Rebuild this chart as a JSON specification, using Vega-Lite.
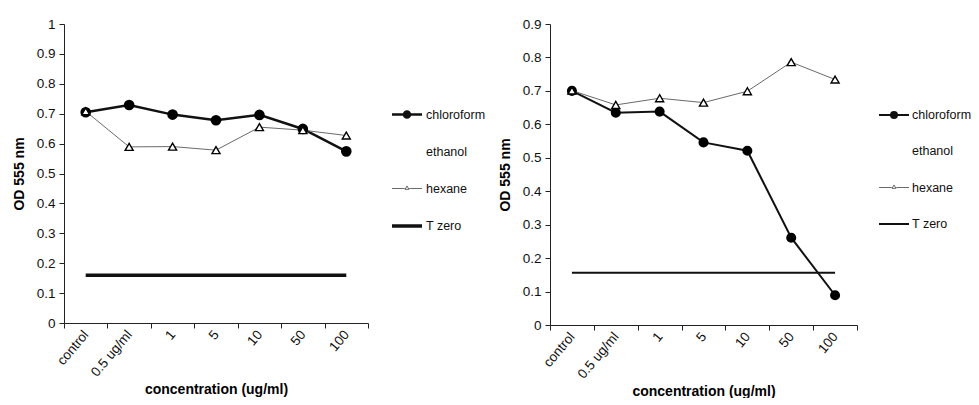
{
  "$schema": "https://vega.github.io/schema/vega-lite/v6.json",
  "padding": {"left": 12, "top": 17, "right": 0, "bottom": 0},
  "spacing": 12,
  "config": {
    "view": {"stroke": null},
    "font": "Liberation Sans",
    "axis": {"grid": false, "domainColor": "#222", "tickColor": "#222", "labelColor": "#111", "titleColor": "#000", "labelFont": "Liberation Sans", "labelFontSize": 13.5, "tickSize": 5},
    "axisX": {"labelAngle": -50, "tickBand": "extent", "labelPadding": 4, "labelOffset": 0},
    "axisY": {"labelPadding": 4, "format": ".1~f"},
    "legend": {"labelFont": "Liberation Sans", "labelFontSize": 12.5, "labelColor": "#111", "symbolSize": 900, "rowPadding": 14, "labelOffset": 2}
  },
  "datasets": {
    "left": [
      {"series": "chloroform", "conc": "control", "od": 0.705},
      {"series": "chloroform", "conc": "0.5 ug/ml", "od": 0.729},
      {"series": "chloroform", "conc": "1", "od": 0.697},
      {"series": "chloroform", "conc": "5", "od": 0.678},
      {"series": "chloroform", "conc": "10", "od": 0.696},
      {"series": "chloroform", "conc": "50", "od": 0.649},
      {"series": "chloroform", "conc": "100", "od": 0.574},
      {"series": "hexane", "conc": "control", "od": 0.708},
      {"series": "hexane", "conc": "0.5 ug/ml", "od": 0.589},
      {"series": "hexane", "conc": "1", "od": 0.59},
      {"series": "hexane", "conc": "5", "od": 0.578},
      {"series": "hexane", "conc": "10", "od": 0.655},
      {"series": "hexane", "conc": "50", "od": 0.645},
      {"series": "hexane", "conc": "100", "od": 0.627},
      {"series": "T zero", "conc": "control", "od": 0.16},
      {"series": "T zero", "conc": "0.5 ug/ml", "od": 0.16},
      {"series": "T zero", "conc": "1", "od": 0.16},
      {"series": "T zero", "conc": "5", "od": 0.16},
      {"series": "T zero", "conc": "10", "od": 0.16},
      {"series": "T zero", "conc": "50", "od": 0.16},
      {"series": "T zero", "conc": "100", "od": 0.16}
    ],
    "right": [
      {"series": "chloroform", "conc": "control", "od": 0.7},
      {"series": "chloroform", "conc": "0.5 ug/ml", "od": 0.635},
      {"series": "chloroform", "conc": "1", "od": 0.638},
      {"series": "chloroform", "conc": "5", "od": 0.546},
      {"series": "chloroform", "conc": "10", "od": 0.521},
      {"series": "chloroform", "conc": "50", "od": 0.261},
      {"series": "chloroform", "conc": "100", "od": 0.089},
      {"series": "hexane", "conc": "control", "od": 0.701},
      {"series": "hexane", "conc": "0.5 ug/ml", "od": 0.658},
      {"series": "hexane", "conc": "1", "od": 0.678},
      {"series": "hexane", "conc": "5", "od": 0.665},
      {"series": "hexane", "conc": "10", "od": 0.699},
      {"series": "hexane", "conc": "50", "od": 0.786},
      {"series": "hexane", "conc": "100", "od": 0.734},
      {"series": "T zero", "conc": "control", "od": 0.156},
      {"series": "T zero", "conc": "0.5 ug/ml", "od": 0.156},
      {"series": "T zero", "conc": "1", "od": 0.156},
      {"series": "T zero", "conc": "5", "od": 0.156},
      {"series": "T zero", "conc": "10", "od": 0.156},
      {"series": "T zero", "conc": "50", "od": 0.156},
      {"series": "T zero", "conc": "100", "od": 0.156}
    ]
  },
  "resolve": {"scale": {"x": "independent", "y": "independent", "stroke": "independent", "strokeWidth": "independent"}, "legend": {"stroke": "independent"}},
  "hconcat": [
    {
      "width": 304,
      "height": 299,
      "data": {"name": "left"},
      "encoding": {
        "x": {"field": "conc", "type": "ordinal", "sort": ["control", "0.5 ug/ml", "1", "5", "10", "50", "100"], "scale": {"type": "band", "paddingInner": 0, "paddingOuter": 0},
              "axis": {"title": "concentration (ug/ml)", "titleFont": "Liberation Sans", "titleFontWeight": "bold", "titleFontSize": 14, "titleY": 66, "titleBaseline": "middle"}},
        "y": {"field": "od", "type": "quantitative", "scale": {"domain": [0, 1], "nice": false},
              "axis": {"values": [0, 0.1, 0.2, 0.3, 0.4, 0.5, 0.6, 0.7, 0.8, 0.9, 1], "title": "OD 555 nm", "titleFont": "Liberation Sans", "titleFontWeight": "bold", "titleFontSize": 14, "titlePadding": 10}}
      },
      "layer": [
        {
          "mark": {"type": "line"},
          "encoding": {
            "stroke": {
              "field": "series", "type": "nominal",
              "scale": {"domain": ["chloroform", "ethanol", "hexane", "T zero"], "range": ["#111111", "rgba(0,0,0,0)", "#6a6a6a", "#111111"]},
              "legend": {
                "title": null, "orient": "none", "legendX": 326, "legendY": 74, "rowPadding": 14,
                "encode": {"symbols": {"update": {
                  "shape": {"signal": "datum.value === 'chloroform' ? 'M-1,0L1,0M0.2,0A0.2,0.2,0,1,1,-0.2,0A0.2,0.2,0,1,1,0.2,0Z' : datum.value === 'hexane' ? 'M-1,0L-0.15,0M0.15,0L1,0M0,-0.17L0.13,0.06L-0.13,0.06Z' : 'M-1,0L1,0'"},
                  "size": {"value": 900},
                  "fill": {"signal": "datum.value === 'chloroform' ? '#111111' : datum.value === 'hexane' ? '#ffffff' : 'rgba(0,0,0,0)'"},
                  "stroke": {"signal": "datum.value === 'chloroform' ? '#111111' : datum.value === 'hexane' ? '#6a6a6a' : datum.value === 'T zero' ? '#111111' : 'rgba(0,0,0,0)'"},
                  "strokeWidth": {"signal": "datum.value === 'chloroform' ? 2.5 : datum.value === 'hexane' ? 1 : 3"},
                  "opacity": {"value": 1}
                }}}
              }
            },
            "strokeWidth": {
              "field": "series", "type": "nominal",
              "scale": {"type": "ordinal", "domain": ["chloroform", "ethanol", "hexane", "T zero"], "range": [2.5, 0, 1, 3.5]},
              "legend": null
            }
          }
        },
        {
          "transform": [{"filter": "datum.series === 'chloroform'"}],
          "mark": {"type": "point", "shape": "circle", "filled": true, "fill": "#000000", "stroke": "#000000", "size": 75, "opacity": 1}
        },
        {
          "transform": [{"filter": "datum.series === 'hexane'"}],
          "mark": {"type": "point", "shape": "triangle-up", "filled": true, "fill": "#ffffff", "stroke": "#000000", "strokeWidth": 1.4, "size": 65, "opacity": 1}
        }
      ]
    },
    {
      "width": 307,
      "height": 301,
      "data": {"name": "right"},
      "encoding": {
        "x": {"field": "conc", "type": "ordinal", "sort": ["control", "0.5 ug/ml", "1", "5", "10", "50", "100"], "scale": {"type": "band", "paddingInner": 0, "paddingOuter": 0},
              "axis": {"title": "concentration (ug/ml)", "titleFont": "Liberation Sans", "titleFontWeight": "bold", "titleFontSize": 14, "titleY": 66, "titleBaseline": "middle"}},
        "y": {"field": "od", "type": "quantitative", "scale": {"domain": [0, 0.9], "nice": false},
              "axis": {"values": [0, 0.1, 0.2, 0.3, 0.4, 0.5, 0.6, 0.7, 0.8, 0.9], "title": "OD 555 nm", "titleFont": "Liberation Sans", "titleFontWeight": "bold", "titleFontSize": 14, "titlePadding": 10}}
      },
      "layer": [
        {
          "mark": {"type": "line"},
          "encoding": {
            "stroke": {
              "field": "series", "type": "nominal",
              "scale": {"domain": ["chloroform", "ethanol", "hexane", "T zero"], "range": ["#111111", "rgba(0,0,0,0)", "#6a6a6a", "#111111"]},
              "legend": {
                "title": null, "orient": "none", "legendX": 328, "legendY": 75, "rowPadding": 14,
                "encode": {"symbols": {"update": {
                  "shape": {"signal": "datum.value === 'chloroform' ? 'M-1,0L1,0M0.2,0A0.2,0.2,0,1,1,-0.2,0A0.2,0.2,0,1,1,0.2,0Z' : datum.value === 'hexane' ? 'M-1,0L-0.15,0M0.15,0L1,0M0,-0.17L0.13,0.06L-0.13,0.06Z' : 'M-1,0L1,0'"},
                  "size": {"value": 900},
                  "fill": {"signal": "datum.value === 'chloroform' ? '#111111' : datum.value === 'hexane' ? '#ffffff' : 'rgba(0,0,0,0)'"},
                  "stroke": {"signal": "datum.value === 'chloroform' ? '#111111' : datum.value === 'hexane' ? '#6a6a6a' : datum.value === 'T zero' ? '#111111' : 'rgba(0,0,0,0)'"},
                  "strokeWidth": {"signal": "datum.value === 'chloroform' ? 2 : datum.value === 'hexane' ? 1 : 2.2"},
                  "opacity": {"value": 1}
                }}}
              }
            },
            "strokeWidth": {
              "field": "series", "type": "nominal",
              "scale": {"type": "ordinal", "domain": ["chloroform", "ethanol", "hexane", "T zero"], "range": [2, 0, 1, 2]},
              "legend": null
            }
          }
        },
        {
          "transform": [{"filter": "datum.series === 'chloroform'"}],
          "mark": {"type": "point", "shape": "circle", "filled": true, "fill": "#000000", "stroke": "#000000", "size": 65, "opacity": 1}
        },
        {
          "transform": [{"filter": "datum.series === 'hexane'"}],
          "mark": {"type": "point", "shape": "triangle-up", "filled": true, "fill": "#ffffff", "stroke": "#000000", "strokeWidth": 1.4, "size": 65, "opacity": 1}
        }
      ]
    }
  ]
}
